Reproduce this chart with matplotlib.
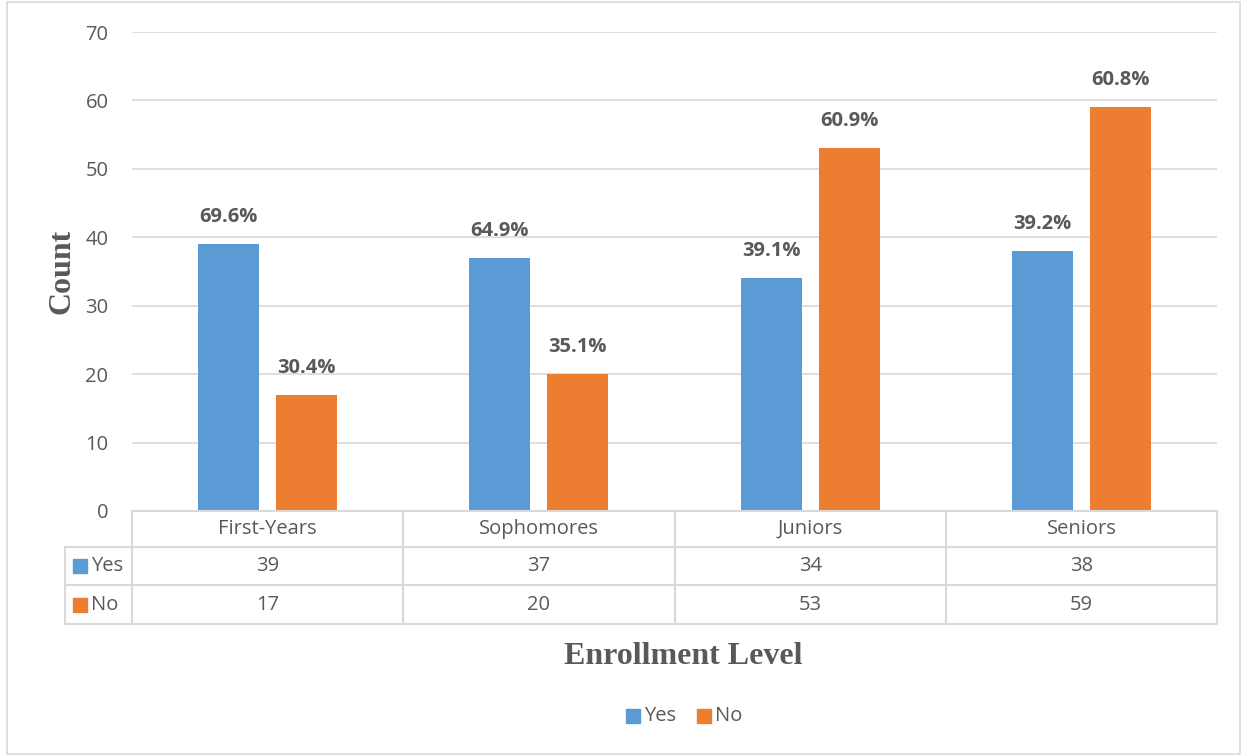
import matplotlib
matplotlib.use("Agg")
import matplotlib.pyplot as plt
from matplotlib.patches import Rectangle
import numpy as np

categories = ["First-Years", "Sophomores", "Juniors", "Seniors"]
yes_counts = [39, 37, 34, 38]
no_counts = [17, 20, 53, 59]
yes_pct = ["69.6%", "64.9%", "39.1%", "39.2%"]
no_pct = ["30.4%", "35.1%", "60.9%", "60.8%"]
series_names = ["Yes", "No"]

BLUE = "#5B9BD5"
ORANGE = "#ED7D31"
GRID = "#D9D9D9"
TXT = "#595959"
SANS = ["Open Sans", "DejaVu Sans"]
SERIF = ["Liberation Serif", "DejaVu Serif"]
FS = 14.5

W, H = 1244, 756
fig = plt.figure(figsize=(W / 100, H / 100), dpi=100)
fig.patch.set_facecolor("white")

# outer border
fig.add_artist(Rectangle((7 / W, 2 / H), (1240 - 7) / W, (754 - 2) / H,
                         transform=fig.transFigure, fill=False,
                         edgecolor=GRID, lw=1.2))

left, right, top, bottom = 132, 1217, 32, 511
ax = fig.add_axes([left / W, 1 - bottom / H, (right - left) / W, (bottom - top) / H])
n = len(categories)
x = np.arange(n) + 0.5
bw = 0.225
off = 0.144
ax.bar(x - off, yes_counts, width=bw, color=BLUE, zorder=3)
ax.bar(x + off, no_counts, width=bw, color=ORANGE, zorder=3)
ax.set_xlim(0, n)
ax.set_ylim(0, 70)
ax.set_yticks(range(0, 71, 10))
ax.yaxis.grid(True, color=GRID, lw=1.2, zorder=0)
ax.set_xticks([])
for s in ax.spines.values():
    s.set_visible(False)
ax.tick_params(axis="y", length=0, pad=17, labelsize=FS, labelcolor=TXT)
for lab in ax.get_yticklabels():
    lab.set_fontfamily(SANS)

for xi, v, p in zip(x - off, yes_counts, yes_pct):
    ax.text(xi, v + 2.5, p, ha="center", va="bottom", fontsize=FS,
            fontweight="bold", color=TXT, family=SANS)
for xi, v, p in zip(x + off, no_counts, no_pct):
    ax.text(xi, v + 2.5, p, ha="center", va="bottom", fontsize=FS,
            fontweight="bold", color=TXT, family=SANS)

# data table below axis (drawn in figure pixel coords)
def fx(px):
    return px / W

def fy(py):
    return 1 - py / H

row_y = [511, 547, 585, 624]
col_x = [left + (right - left) * i / n for i in range(n + 1)]
tbl_left = 65
lw = 1.5
fig.add_artist(plt.Line2D([fx(left), fx(right)], [fy(row_y[0])] * 2, color=GRID, lw=lw))
for yy in row_y[1:]:
    fig.add_artist(plt.Line2D([fx(tbl_left), fx(right)], [fy(yy)] * 2, color=GRID, lw=lw))
for xx in col_x:
    fig.add_artist(plt.Line2D([fx(xx)] * 2, [fy(row_y[0]), fy(row_y[3])], color=GRID, lw=lw))
fig.add_artist(plt.Line2D([fx(tbl_left)] * 2, [fy(row_y[1]), fy(row_y[3])], color=GRID, lw=lw))

for i, c in enumerate(categories):
    cx = (col_x[i] + col_x[i + 1]) / 2
    fig.text(fx(cx), fy((row_y[0] + row_y[1]) / 2), c, ha="center", va="center",
             fontsize=FS, color=TXT, family=SANS)
    fig.text(fx(cx), fy((row_y[1] + row_y[2]) / 2), str(yes_counts[i]), ha="center",
             va="center", fontsize=FS, color=TXT, family=SANS)
    fig.text(fx(cx), fy((row_y[2] + row_y[3]) / 2), str(no_counts[i]), ha="center",
             va="center", fontsize=FS, color=TXT, family=SANS)

for r, (name, col) in enumerate(zip(series_names, [BLUE, ORANGE])):
    cy = (row_y[r + 1] + row_y[r + 2]) / 2
    fig.add_artist(Rectangle((fx(73), fy(cy + 7)), 14 / W, 14 / H,
                             transform=fig.transFigure, color=col))
    fig.text(fx(91), fy(cy), name, ha="left", va="center", fontsize=FS,
             color=TXT, family=SANS)

# axis titles
fig.text(fx(62), fy(271), "Count", rotation=90, ha="center", va="center",
         fontsize=23, fontweight="bold", color=TXT, family=SERIF)
fig.text(fx(683), fy(657), "Enrollment Level", ha="center", va="center",
         fontsize=23, fontweight="bold", color=TXT, family=SERIF)

# legend
for name, col, px in [("Yes", BLUE, 626), ("No", ORANGE, 697)]:
    fig.add_artist(Rectangle((fx(px), fy(716 + 7)), 14 / W, 14 / H,
                             transform=fig.transFigure, color=col))
    fig.text(fx(px + 18), fy(716), name, ha="left", va="center", fontsize=FS,
             color=TXT, family=SANS)

fig.savefig("out.png", dpi=100)
